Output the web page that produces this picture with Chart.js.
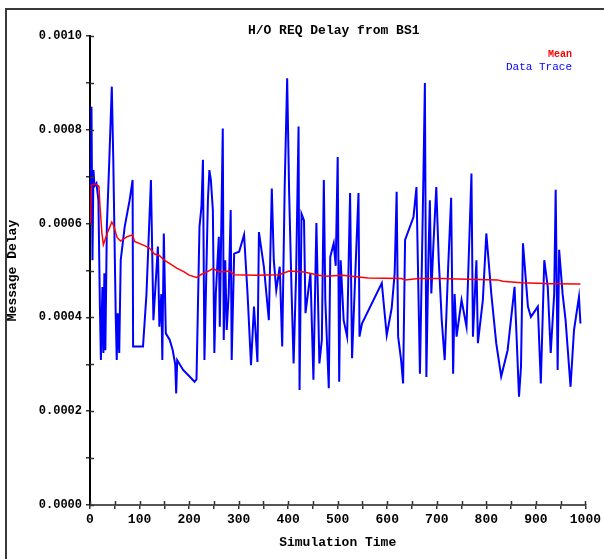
<!DOCTYPE html>
<html>
<head>
<meta charset="utf-8">
<script src="https://cdn.jsdelivr.net/npm/chart.js@4"></script>
<style>
  html, body { margin: 0; padding: 0; background: #fff; }
  #wrap { position: relative; width: 604px; height: 559px; }
</style>
</head>
<body>
<div id="wrap"><canvas id="c" width="604" height="559"></canvas></div>
<script>
const chartTitle = 'H/O REQ Delay from BS1';
const xAxisTitle = 'Simulation Time';
const yAxisTitle = 'Message Delay';
const seriesNames = ['Mean', 'Data Trace'];

const traceTime = [1,3,5,7,9,13,17,20,22,25,27,29,31,34,39,44,47,52,54,56,59,62,70,80,86,87,107,114,123,128,137,140,144,146,149,153,161,167,172,174,176,188,201,211,215,221,225,228,231,238,241,244,248,251,254,260,262,268,270,273,276,280,284,286,291,301,311,318,325,331,338,341,351,361,367,371,376,383,388,393,398,402,407,411,416,421,423,427,432,435,445,451,457,463,468,472,475,482,485,492,496,500,503,506,512,519,525,529,534,539,542,544,549,589,599,609,615,619,622,628,632,636,653,659,666,673,676,679,683,686,689,693,699,704,710,716,723,729,733,736,740,750,760,770,773,780,783,793,800,810,820,830,843,857,866,870,874,884,890,904,910,917,924,930,937,940,944,947,954,960,970,977,987,990];
const traceDelay = [0.00060,0.000849,0.000522,0.000714,0.00068,0.000686,0.00065,0.000423,0.000309,0.000465,0.000324,0.000494,0.00033,0.000593,0.000736,0.000892,0.000736,0.000401,0.000309,0.000409,0.000324,0.000522,0.000593,0.00065,0.000693,0.000338,0.000338,0.00045,0.000693,0.000394,0.000551,0.00038,0.00045,0.000309,0.000579,0.000366,0.000352,0.00033,0.0003,0.000238,0.000309,0.000288,0.000274,0.000263,0.000268,0.000593,0.000636,0.000736,0.000309,0.00065,0.000714,0.000693,0.000629,0.000324,0.000451,0.000572,0.00038,0.000803,0.000352,0.000522,0.000373,0.000451,0.000629,0.000309,0.000536,0.00054,0.000576,0.000451,0.000298,0.000423,0.000305,0.000582,0.000508,0.000394,0.000675,0.000522,0.000458,0.000508,0.000338,0.000679,0.00091,0.000665,0.000451,0.000302,0.00049,0.000807,0.000245,0.000621,0.000607,0.000409,0.000494,0.000267,0.000601,0.000302,0.000352,0.000693,0.000437,0.000249,0.000529,0.000558,0.00051,0.000742,0.000263,0.000522,0.000394,0.000359,0.000665,0.000313,0.000451,0.000586,0.000665,0.000359,0.000387,0.000473,0.000362,0.00042,0.000494,0.000668,0.000359,0.000309,0.000259,0.000565,0.000614,0.000678,0.00028,0.0007,0.0009,0.000273,0.000522,0.00065,0.000451,0.00055,0.000678,0.000522,0.000394,0.000309,0.000508,0.000655,0.00028,0.00045,0.000359,0.000437,0.00038,0.000707,0.000359,0.000522,0.000345,0.000437,0.000579,0.000451,0.000345,0.000274,0.00033,0.000465,0.000231,0.000295,0.000558,0.000423,0.000401,0.000423,0.000259,0.000522,0.000465,0.000324,0.00045,0.000672,0.000288,0.000544,0.00045,0.000394,0.000252,0.000373,0.000444,0.000387];

const meanTime = [1,3,10,18,20,24,27,35,44,47,55,62,75,86,90,110,120,130,140,150,165,175,190,200,215,225,231,248,261,281,291,335,382,402,432,462,475,509,542,562,629,636,663,710,743,823,833,870,904,930,990];
const meanDelay = [0.00060,0.000682,0.000685,0.00068,0.00064,0.00058,0.000555,0.00058,0.000603,0.000598,0.00057,0.000563,0.000572,0.000576,0.000562,0.000553,0.000548,0.000535,0.000532,0.000522,0.000512,0.000505,0.000497,0.00049,0.000485,0.000492,0.000494,0.000504,0.000497,0.000499,0.000491,0.00049,0.000491,0.000499,0.000497,0.00049,0.000488,0.00049,0.000486,0.000484,0.000483,0.00048,0.000483,0.000483,0.000482,0.00048,0.000477,0.000474,0.000473,0.000472,0.000471];

const xTickStep = 50, xLabelStep = 100;
const yTickStep = 0.0001;

const tracePoints = traceTime.map((t, i) => ({ x: t, y: traceDelay[i] }));
const meanPoints = meanTime.map((t, i) => ({ x: t, y: meanDelay[i] }));

const MONO = '"Liberation Mono", "DejaVu Sans Mono", monospace';

const framePlugin = {
  id: 'frame',
  beforeDraw(chart) {
    const ctx = chart.ctx;
    ctx.save();
    ctx.strokeStyle = '#3a3a3a';
    ctx.lineWidth = 2;
    ctx.beginPath();
    ctx.moveTo(6, 559);
    ctx.lineTo(6, 9);
    ctx.lineTo(604, 9);
    ctx.stroke();
    ctx.restore();
  }
};

const innerTicksPlugin = {
  id: 'innerTicks',
  afterDraw(chart) {
    const ctx = chart.ctx;
    const xs = chart.scales.x, ys = chart.scales.y;
    const a = chart.chartArea;
    ctx.save();
    ctx.lineWidth = 1.5;
    ctx.strokeStyle = '#333';
    xs.ticks.forEach(t => {
      const px = Math.round(xs.getPixelForValue(t.value)) + 0.5;
      ctx.beginPath(); ctx.moveTo(px, a.bottom); ctx.lineTo(px, a.bottom - 4); ctx.stroke();
    });
    ys.ticks.forEach(t => {
      const py = Math.round(ys.getPixelForValue(t.value)) + 0.5;
      ctx.beginPath(); ctx.moveTo(a.left, py); ctx.lineTo(a.left + 4, py); ctx.stroke();
    });
    // title
    ctx.fillStyle = '#000';
    ctx.font = 'bold 13px ' + MONO;
    ctx.textAlign = 'center';
    ctx.textBaseline = 'middle';
    ctx.fillText(chartTitle, (a.left + a.right) / 2 - 4, 31);
    // legend
    ctx.textAlign = 'right';
    ctx.font = 'bold 10px ' + MONO;
    ctx.fillStyle = chart.data.datasets[0].borderColor;
    ctx.fillText(chart.data.datasets[0].label, 572, 54);
    ctx.font = '11px ' + MONO;
    ctx.fillStyle = chart.data.datasets[1].borderColor;
    ctx.fillText(chart.data.datasets[1].label, 572, 67);
    ctx.restore();
  }
};

new Chart(document.getElementById('c'), {
  type: 'line',
  data: {
    datasets: [
      { label: seriesNames[0], data: meanPoints, borderColor: '#ff0000', borderWidth: 1.5, pointRadius: 0, tension: 0, fill: false, order: 0 },
      { label: seriesNames[1], data: tracePoints, borderColor: '#0000ff', borderWidth: 2, pointRadius: 0, tension: 0, fill: false, order: 1 }
    ]
  },
  options: {
    responsive: false,
    animation: false,
    devicePixelRatio: 1,
    layout: { padding: { top: 36, right: 16, bottom: 0, left: 0 } },
    plugins: { legend: { display: false }, title: { display: false }, tooltip: { enabled: false } },
    scales: {
      x: {
        type: 'linear', min: 0, max: 1000,
        afterFit(s) { s.height = 54; },
        border: { display: true, color: '#555', width: 2 },
        grid: { drawOnChartArea: false, drawTicks: true, tickLength: 4, color: '#333', lineWidth: 1.5 },
        ticks: {
          stepSize: xTickStep, autoSkip: false, maxRotation: 0, padding: 3,
          color: '#000', font: { family: MONO, size: 13, weight: 'bold' },
          callback: v => (v % xLabelStep === 0 ? String(v) : '')
        },
        title: { display: true, text: xAxisTitle, color: '#000', font: { family: MONO, size: 13, weight: 'bold' }, padding: { top: 0, bottom: 8 } }
      },
      y: {
        type: 'linear', min: 0, max: 0.001,
        afterFit(s) { s.width = 90; },
        border: { display: true, color: '#000', width: 2 },
        grid: { drawOnChartArea: false, drawTicks: true, tickLength: 4, color: '#333', lineWidth: 1.5 },
        ticks: {
          stepSize: yTickStep, autoSkip: false, padding: 4,
          color: '#000', font: { family: MONO, size: 12, weight: 'bold' },
          callback: v => (Math.round(v * 10000) % 2 === 0 ? v.toFixed(4) : '')
        },
        title: { display: true, text: yAxisTitle, color: '#000', font: { family: MONO, size: 13, weight: 'bold' }, padding: { top: 5, bottom: 0 } }
      }
    }
  },
  plugins: [framePlugin, innerTicksPlugin]
});
</script>
</body>
</html>
